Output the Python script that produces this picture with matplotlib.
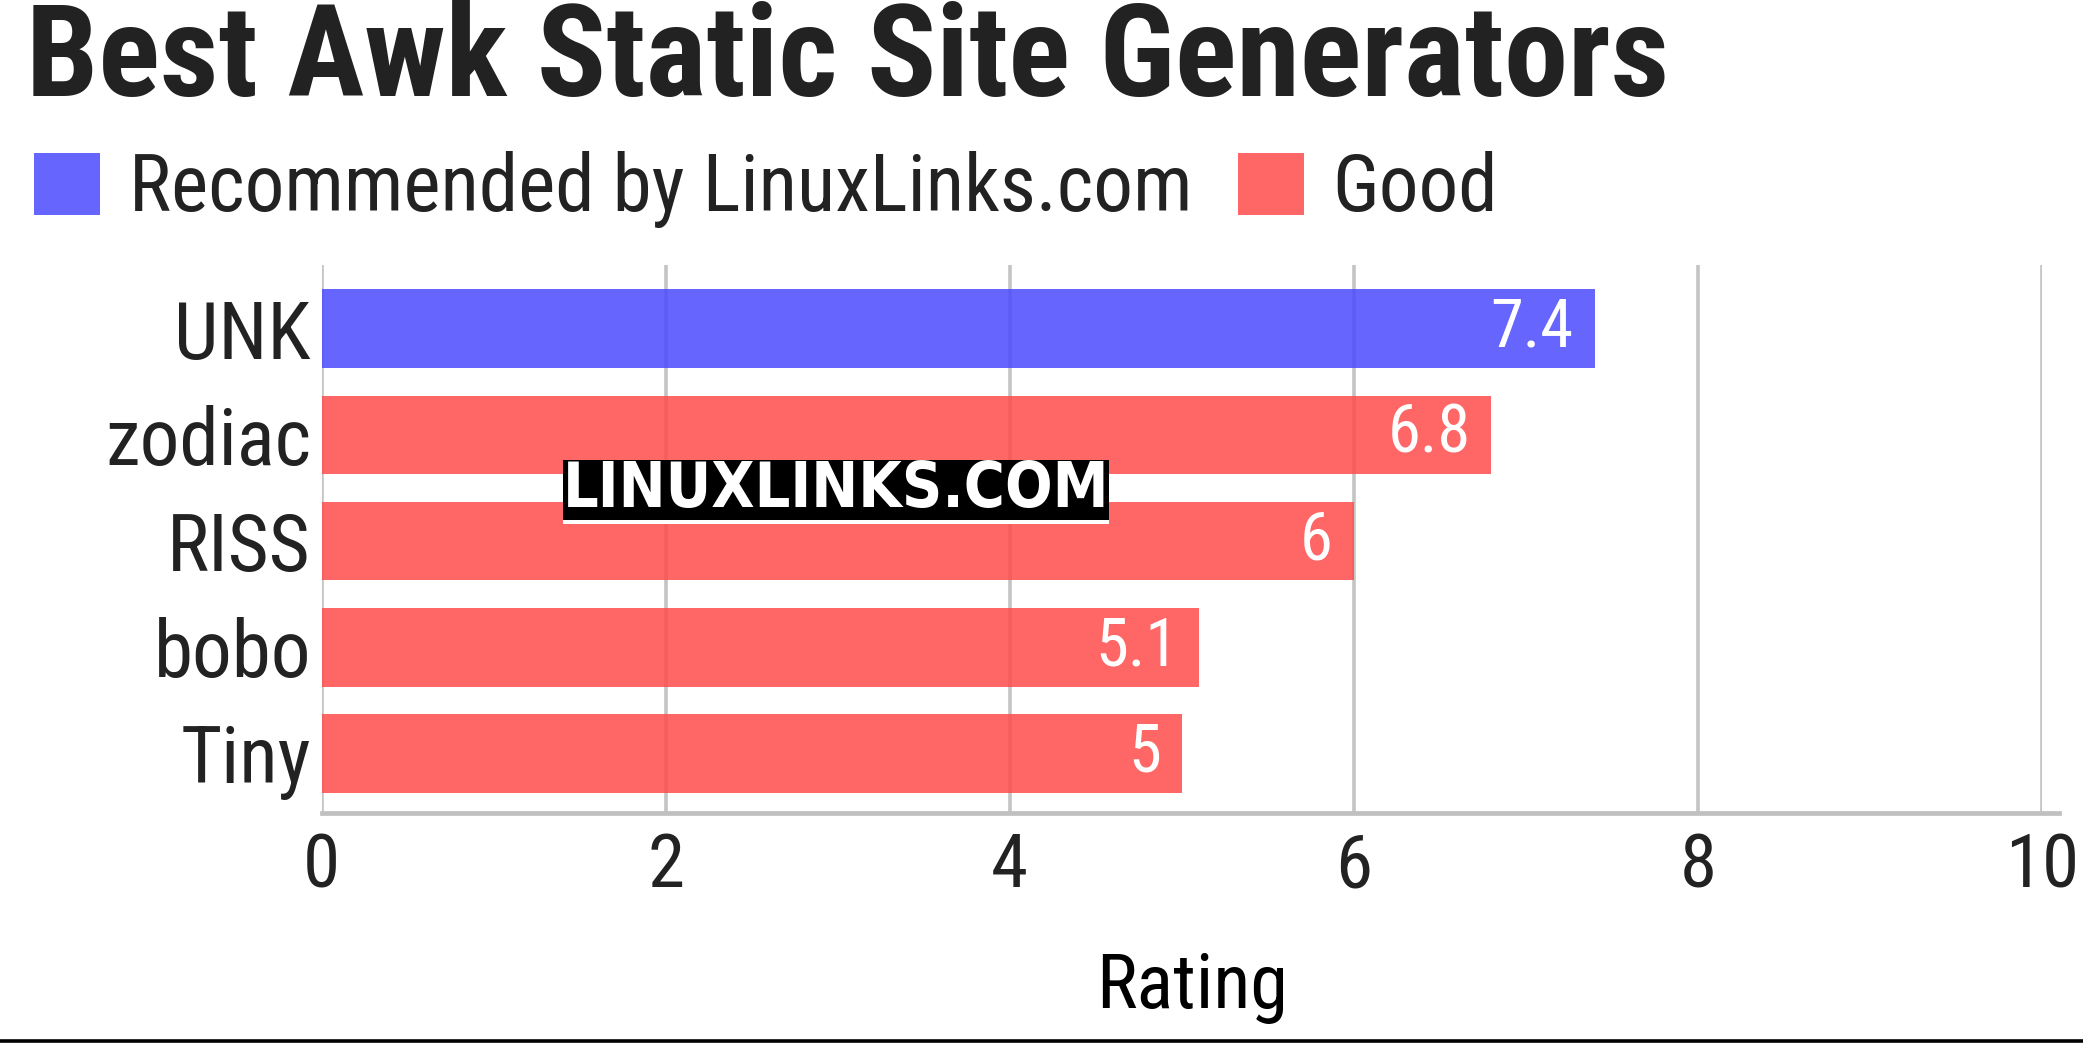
import matplotlib
matplotlib.use("Agg")
import matplotlib.pyplot as plt
from matplotlib.patches import Patch
from matplotlib.lines import Line2D

# ---- data ----
title = "Best Awk Static Site Generators"
categories = ["UNK", "zodiac", "RISS", "bobo", "Tiny"]
ratings = [7.4, 6.8, 6.0, 5.1, 5.0]
groups = ["Recommended by LinuxLinks.com", "Good", "Good", "Good", "Good"]
legend_labels = ["Recommended by LinuxLinks.com", "Good"]
xticks = [0, 2, 4, 6, 8, 10]
xlabel = "Rating"
watermark = "LINUXLINKS.COM"

# semi-transparent bar colours (look like #6666ff / #ff6666 over white)
colors = {"Recommended by LinuxLinks.com": (75 / 255, 75 / 255, 1.0, 0.85),
          "Good": (1.0, 75 / 255, 75 / 255, 0.85)}
FONT = "Roboto Condensed"
TXT = "#222222"

W, H = 2083, 1043
fig = plt.figure(figsize=(W / 100, H / 100), dpi=100)
fig.patch.set_facecolor("white")

ax_left, ax_right, ax_top, ax_bottom = 321.5, 2042, 265, 813
ax = fig.add_axes([ax_left / W, 1 - ax_bottom / H, (ax_right - ax_left) / W, (ax_bottom - ax_top) / H])

ypos = list(range(len(categories)))
ax.barh(ypos, ratings, height=0.74, color=[colors[g] for g in groups], zorder=2)
ax.set_xlim(0, 10)
ax.set_ylim(len(categories) - 1 + 0.56, -0.6)

for s in ax.spines.values():
    s.set_visible(False)
ax.set_xticks(xticks)
ax.set_xticklabels([str(t) for t in xticks])
ax.set_yticks(ypos)
ax.set_yticklabels(categories)
ax.tick_params(axis="y", length=0, pad=7.5, labelsize=57, labelcolor=TXT)
ax.tick_params(axis="x", length=0, pad=13, labelsize=54, labelcolor=TXT)
for lbl in ax.get_xticklabels() + ax.get_yticklabels():
    lbl.set_fontfamily(FONT)
ax.set_axisbelow(True)
ax.grid(axis="x", color="#c4c4c4", linewidth=2.6, zorder=1)
ax.grid(axis="y", visible=False)

# bottom axis line (slightly extended past the plot)
ax.add_line(Line2D([0, 1.0099], [0, 0], transform=ax.transAxes, color="#c0c0c0",
                   linewidth=3.4, clip_on=False, zorder=4))

ax.set_xlabel(xlabel, fontsize=55, fontfamily=FONT, color="black", labelpad=35)
ax.xaxis.label.set_x(0.5 + 10 / (ax_right - ax_left))

# value labels inside the bars
for y, v in zip(ypos, ratings):
    ax.annotate(f"{v:g}", xy=(v, y), xytext=(-15, 0), textcoords="offset points",
                ha="right", va="center", color="white", fontsize=48, fontfamily=FONT, zorder=5)

# title
fig.text(26 / W, 1 - 96 / H, title, fontsize=92.5, fontweight="bold", fontfamily=FONT,
         color=TXT, ha="left", va="baseline")

# legend
handles = [Patch(facecolor=colors[l], edgecolor="none", label=l) for l in legend_labels]
leg = fig.legend(handles=handles, loc="center left", bbox_to_anchor=(34 / W, 1 - 190 / H),
                 ncol=2, frameon=False, borderpad=0, borderaxespad=0,
                 handlelength=0.84, handleheight=0.84, handletextpad=0.36,
                 columnspacing=0.57, prop={"family": FONT, "size": 57})
for t in leg.get_texts():
    t.set_color(TXT)

# watermark
wx, wy = 836 / W, 1 - 490 / H
fig.text(wx, wy - 4 / H, watermark, fontsize=45, fontweight="bold", fontfamily="DejaVu Sans",
         fontstretch="condensed", color="white", ha="center", va="center", zorder=10,
         bbox=dict(facecolor="white", edgecolor="none", pad=0))
fig.text(wx, wy, watermark, fontsize=45, fontweight="bold", fontfamily="DejaVu Sans",
         fontstretch="condensed", color="white", ha="center", va="center", zorder=11,
         bbox=dict(facecolor="black", edgecolor="none", pad=0))

# bottom rule
fig.add_artist(Line2D([0, 1], [1 - 1040.5 / H, 1 - 1040.5 / H], transform=fig.transFigure,
                      color="black", linewidth=2.6))

fig.savefig("out.png", dpi=100, facecolor="white")
